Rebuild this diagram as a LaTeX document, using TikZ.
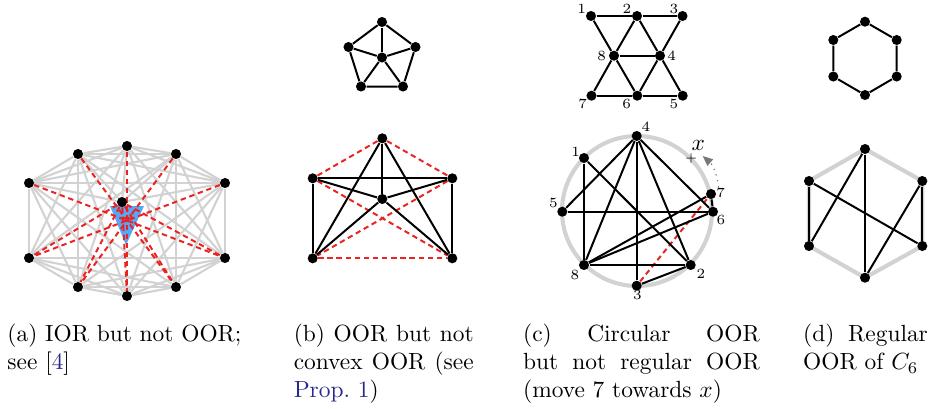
\documentclass[tikz,border=0pt]{standalone}
\usetikzlibrary{arrows.meta,backgrounds}
\definecolor{edgegray}{RGB}{210,210,210}
\definecolor{nonred}{RGB}{235,35,35}
\definecolor{obst}{RGB}{85,168,245}
\definecolor{linkblue}{RGB}{40,40,140}
\definecolor{arrgray}{RGB}{120,120,120}
\begin{document}
\begin{tikzpicture}[x=0.4274pt,y=-0.4274pt,
  dot/.style={circle,fill=black,inner sep=0pt,minimum size=4.3pt},
  grayedge/.style={draw=edgegray,line width=0.9pt},
  blackedge/.style={draw=black,line width=0.85pt},
  nonedge/.style={draw=nonred,line width=0.85pt,dash pattern=on 2.3pt off 1.6pt},
  ring/.style={draw=edgegray,line width=1.75pt},
  lbl/.style={font=\fontsize{6}{7}\selectfont,inner sep=0pt},
  captext/.style={anchor=base west,inner sep=0pt,font=\normalsize}]
\useasboundingbox (0,0) rectangle (933,408);

% ---------------- (a) ----------------
\node[dot] (a0) at (127,146) {};
\node[dot] (a1) at (78,154) {};
\node[dot] (a2) at (176,154) {};
\node[dot] (a3) at (29,183) {};
\node[dot] (a4) at (225,183) {};
\node[dot] (a5) at (29,258) {};
\node[dot] (a6) at (225,258) {};
\node[dot] (a7) at (78,287) {};
\node[dot] (a8) at (176,287) {};
\node[dot] (a9) at (127,296) {};
\node[dot] (ac) at (122,202) {};
\begin{pgfonlayer}{background}
  \foreach \i in {0,...,8}{
    \pgfmathtruncatemacro{\k}{\i+1}
    \foreach \j in {\k,...,9}{
      \pgfmathtruncatemacro{\s}{\i+\j}
      \ifnum\s=9\relax\else\draw[grayedge] (a\i) -- (a\j);\fi
    }
  }
  \foreach \j in {0,...,4} \draw[grayedge] (ac) -- (a\j);
  \fill[obst] (110,206) -- (144,206) -- (126,245) -- cycle;
  \foreach \i/\j in {0/9,1/8,2/7,3/6,4/5} \draw[nonedge] (a\i) -- (a\j);
  \foreach \j in {5,...,9} \draw[nonedge] (ac) -- (a\j);
\end{pgfonlayer}

% ---------------- (b) ----------------
\node[dot] (bt) at (382,22) {};
\node[dot] (bl) at (348.5,47) {};
\node[dot] (br) at (415.5,47) {};
\node[dot] (bc) at (382,57.5) {};
\node[dot] (bbl) at (361,86.5) {};
\node[dot] (bbr) at (403,86.5) {};
\begin{pgfonlayer}{background}
  \draw[blackedge] (bt) -- (br) -- (bbr) -- (bbl) -- (bl) -- (bt);
  \foreach \v in {bt,bl,br,bbl,bbr} \draw[blackedge] (bc) -- (\v);
\end{pgfonlayer}

\node[dot] (Bt) at (382.3,138.3) {};
\node[dot] (BL) at (312.7,178.3) {};
\node[dot] (BR) at (452.3,178.3) {};
\node[dot] (Bc) at (382.3,199) {};
\node[dot] (BBL) at (312.7,258.3) {};
\node[dot] (BBR) at (452.3,258.3) {};
\begin{pgfonlayer}{background}
  \draw[nonedge] (Bt) -- (BL);
  \draw[nonedge] (Bt) -- (BR);
  \draw[nonedge] (BBL) -- (BBR);
  \draw[nonedge] (BL) -- (BBR);
  \draw[nonedge] (BR) -- (BBL);
  \draw[blackedge] (Bt) -- (BBL);
  \draw[blackedge] (Bt) -- (BBR);
  \draw[blackedge] (BL) -- (BR);
  \draw[blackedge] (BL) -- (BBL);
  \draw[blackedge] (BR) -- (BBR);
  \foreach \v in {Bt,BL,BR,BBL,BBR} \draw[blackedge] (Bc) -- (\v);
\end{pgfonlayer}

% ---------------- (c) top ----------------
\node[dot] (t1) at (591,16) {};
\node[dot] (t2) at (637,16) {};
\node[dot] (t3) at (682.5,16) {};
\node[dot] (t8) at (614,55.7) {};
\node[dot] (t4) at (660,55.7) {};
\node[dot] (t7) at (591.5,95.7) {};
\node[dot] (t6) at (637.3,95.7) {};
\node[dot] (t5) at (682.7,95.7) {};
\begin{pgfonlayer}{background}
  \foreach \u/\v in {1/2,2/3,1/8,2/8,2/4,3/4,8/4,8/7,8/6,4/6,4/5,7/6,6/5}
    \draw[blackedge] (t\u) -- (t\v);
\end{pgfonlayer}
\node[lbl] (tl1) at (581.7,9) {1};
\node[lbl] (tl2) at (627,9) {2};
\node[lbl] (tl3) at (674,9) {3};
\node[lbl] (tl8) at (601.7,56) {8};
\node[lbl] (tl4) at (671.7,56) {4};
\node[lbl] (tl7) at (582.7,104) {7};
\node[lbl] (tl6) at (626.7,104) {6};
\node[lbl] (tl5) at (674,104) {5};

% ---------------- (c) bottom ----------------
\coordinate (cc) at (637,211);
\node[dot] (c4) at (636.7,136) {};
\node[dot] (c1) at (584,158) {};
\node[dot] (c5) at (562.3,211.7) {};
\node[dot] (c8) at (584,265) {};
\node[dot] (c3) at (636.7,285.7) {};
\node[dot] (c2) at (690.7,265) {};
\node[dot] (c6) at (713,211.7) {};
\node[dot] (c7) at (711,194) {};
\begin{pgfonlayer}{background}
  \draw[ring] (cc) circle[radius=75];
  \draw[nonedge] (c3) -- (c7);
  \foreach \u/\v in {1/2,2/3,1/8,2/8,2/4,3/4,8/4,8/7,8/6,4/6,4/5,7/6,6/5}
    \draw[blackedge] (c\u) -- (c\v);
\end{pgfonlayer}
\node[lbl] (cl4) at (646,126.7) {4};
\node[lbl] (cl1) at (575.7,151.7) {1};
\node[lbl] (cl5) at (553.3,203.3) {5};
\node[lbl] (cl8) at (575,275) {8};
\node[lbl] (cl3) at (637.3,295) {3};
\node[lbl] (cl2) at (701,274) {2};
\node[lbl] (cl7) at (720.7,192.7) {7};
\node[lbl] (cl6) at (721,219.5) {6};
\node[font=\tiny,inner sep=0pt] (xplus) at (691,158.8) {+};
\node[font=\normalsize,inner sep=0pt] (xlab) at (698.3,145.5) {$x$};
\coordinate (arrS) at (718.5,187);
\coordinate (arrE) at (702.7,156);
\draw[arrgray,dotted,line width=0.5pt,-{Triangle[length=4.3pt,width=3.6pt]}]
  (arrS) .. controls (717.5,176) and (713,165) .. (arrE);

% ---------------- (d) ----------------
\node[dot] (h1) at (865,21.7) {};
\node[dot] (h2) at (896.7,40) {};
\node[dot] (h3) at (896.7,76.5) {};
\node[dot] (h4) at (865,95) {};
\node[dot] (h5) at (833.3,76.5) {};
\node[dot] (h6) at (833.3,40) {};
\begin{pgfonlayer}{background}
  \draw[blackedge] (h1) -- (h2) -- (h3) -- (h4) -- (h5) -- (h6) -- (h1);
\end{pgfonlayer}

\node[dot] (H1) at (865,149) {};
\node[dot] (H2) at (922.3,181) {};
\node[dot] (H3) at (922.3,246) {};
\node[dot] (H4) at (865,277.7) {};
\node[dot] (H5) at (809,246) {};
\node[dot] (H6) at (809,181) {};
\begin{pgfonlayer}{background}
  \draw[ring] (H1.center) -- (H2.center) -- (H3.center) -- (H4.center) -- (H5.center) -- (H6.center) -- cycle;
  \draw[blackedge] (H6) -- (H5);
  \draw[blackedge] (H2) -- (H3);
  \draw[blackedge] (H1) -- (H4);
  \draw[blackedge] (H1) -- (H5);
  \draw[blackedge] (H6) -- (H3);
  \draw[blackedge] (H2) -- (H4);
\end{pgfonlayer}

% ---------------- captions ----------------
\node[captext] (capa1) at (7,341.5) {(a) IOR but not OOR;};
\node[captext] (capa2) at (7,369.7) {see [\textcolor{linkblue}{4}]};
\node[captext] (capb1) at (293.3,341.5) {\makebox[76.9pt][s]{(b) OOR but not}};
\node[captext] (capb2) at (293.3,369.7) {\makebox[76.9pt][s]{convex OOR (see}};
\node[captext] (capb3) at (293.3,397.9) {\textcolor{linkblue}{Prop.~1})};
\node[captext] (capc1) at (522.7,341.5) {\makebox[101.1pt][s]{(c) Circular OOR}};
\node[captext] (capc2) at (522.7,369.7) {\makebox[101.1pt][s]{but not regular OOR}};
\node[captext] (capc3) at (522.7,397.9) {(move 7 towards $x$)};
\node[captext] (capd1) at (802.7,341.5) {\makebox[53.3pt][s]{(d) Regular}};
\node[captext] (capd2) at (802.7,369.7) {OOR of $C_6$};
\end{tikzpicture}
\end{document}
